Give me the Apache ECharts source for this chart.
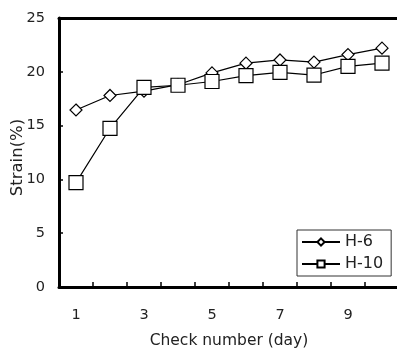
<!DOCTYPE html>
<html><head><meta charset="utf-8">
<script src="https://cdn.jsdelivr.net/npm/echarts@6/dist/echarts.min.js"></script>
<style>html,body{margin:0;padding:0;background:#fff}#c{width:397px;height:351px}</style>
</head><body><div id="c"></div>
<script>
const categories = ['1','2','3','4','5','6','7','8','9','10'];
const h6 = [16.45, 17.8, 18.2, 18.8, 19.9, 20.8, 21.1, 20.9, 21.6, 22.2];
const h10 = [9.7, 14.75, 18.55, 18.75, 19.1, 19.65, 19.95, 19.7, 20.5, 20.8];
const yTicks = [0, 5, 10, 15, 20, 25];

const chart = echarts.init(document.getElementById('c'));
const font = 'DejaVu Sans, Verdana, sans-serif';
chart.setOption({
  animation: false,
  grid: {left: 59, top: 18, width: 340, height: 269, containLabel: false, outerBoundsMode: 'none'},
  xAxis: [{
    type: 'category', data: categories, boundaryGap: true,
    name: 'Check number (day)', nameLocation: 'middle', nameGap: 46, nameMoveOverlap: false,
    nameTextStyle: {fontFamily: font, fontSize: 15.5, color: '#222'},
    axisLine: {lineStyle: {color: '#000', width: 3}},
    axisTick: {show: true, inside: true, length: 5, interval: 0, lineStyle: {color: '#000', width: 1.5}},
    axisLabel: {interval: 1, fontFamily: font, fontSize: 14.5, color: '#222', margin: 21},
    splitLine: {show: false}
  }, {
    type: 'category', data: categories, position: 'top',
    axisLine: {show: true, lineStyle: {color: '#000', width: 3}},
    axisTick: {show: false}, axisLabel: {show: false}
  }],
  yAxis: {
    type: 'value', min: 0, max: 25, interval: 5,
    name: 'Strain(%)', nameLocation: 'middle', nameGap: 33, nameMoveOverlap: false,
    nameTextStyle: {fontFamily: font, fontSize: 16.5, color: '#222', padding: [0, 10, 0, 0]},
    axisLine: {show: true, lineStyle: {color: '#000', width: 3}},
    axisTick: {show: true, inside: true, length: 4, lineStyle: {color: '#000', width: 1.5}},
    axisLabel: {fontFamily: font, fontSize: 14.5, color: '#222', margin: 14,
      formatter: v => yTicks.includes(v) ? String(v) : ''},
    splitLine: {show: false}
  },
  legend: {
    left: 297, top: 230, orient: 'vertical',
    data: ['H-6', 'H-10'],
    backgroundColor: '#fff', borderColor: '#333', borderWidth: 1, borderRadius: 0,
    padding: [4, 8, 4, 4], itemGap: 6, itemWidth: 38, itemHeight: 9,
    textStyle: {fontFamily: font, fontSize: 16, color: '#222'}
  },
  series: [{
    name: 'H-6', type: 'line', data: h6, symbol: 'diamond', symbolSize: 12,
    lineStyle: {color: '#000', width: 1.2},
    itemStyle: {color: '#fff', borderColor: '#000', borderWidth: 1.2}
  }, {
    name: 'H-10', type: 'line', data: h10, symbol: 'rect', symbolSize: 14,
    lineStyle: {color: '#000', width: 1.2},
    itemStyle: {color: '#fff', borderColor: '#000', borderWidth: 1.2}
  }]
});
</script></body></html>
